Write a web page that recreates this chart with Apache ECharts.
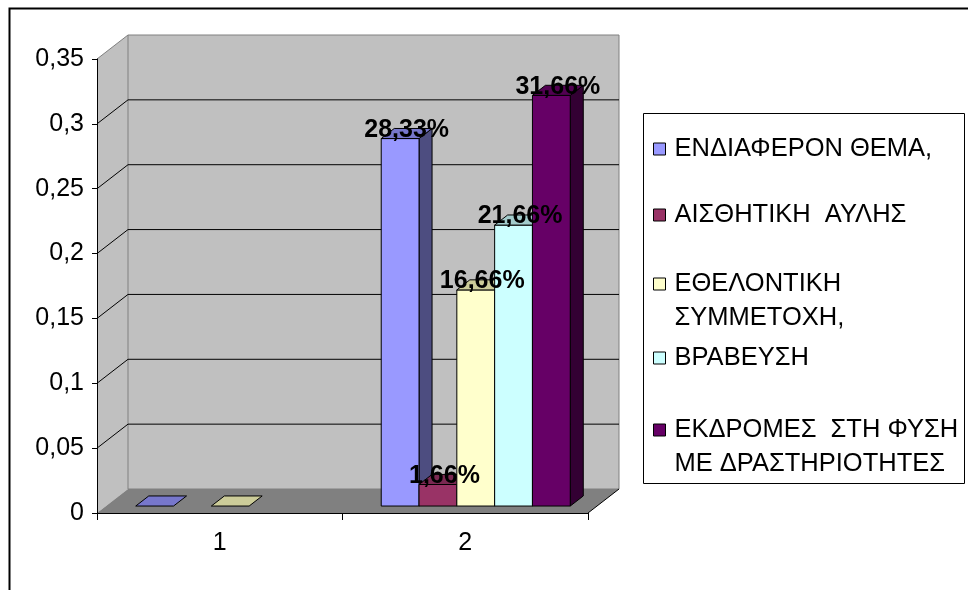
<!DOCTYPE html>
<html>
<head>
<meta charset="utf-8">
<script src="https://cdn.jsdelivr.net/npm/echarts@6/dist/echarts.min.js"></script>
<style>
  html, body { margin: 0; padding: 0; background: #fff; }
  #chart { width: 968px; height: 590px; }
</style>
</head>
<body>
<div id="chart"></div>
<script>
// Categories and value axis ticks
const categories = ['1', '2'];
const yTicks = [0, 0.05, 0.1, 0.15, 0.2, 0.25, 0.3, 0.35];

// Series names (legend text) and their wrapped legend lines
const seriesNames = [
  'ΕΝΔΙΑΦΕΡΟΝ ΘΕΜΑ,',
  'ΑΙΣΘΗΤΙΚΗ  ΑΥΛΗΣ',
  'ΕΘΕΛΟΝΤΙΚΗ ΣΥΜΜΕΤΟΧΗ,',
  'ΒΡΑΒΕΥΣΗ',
  'ΕΚΔΡΟΜΕΣ  ΣΤΗ ΦΥΣΗ ΜΕ ΔΡΑΣΤΗΡΙΟΤΗΤΕΣ'
];
const legendLines = [
  ['ΕΝΔΙΑΦΕΡΟΝ ΘΕΜΑ,'],
  ['ΑΙΣΘΗΤΙΚΗ  ΑΥΛΗΣ'],
  ['ΕΘΕΛΟΝΤΙΚΗ', 'ΣΥΜΜΕΤΟΧΗ,'],
  ['ΒΡΑΒΕΥΣΗ'],
  ['ΕΚΔΡΟΜΕΣ  ΣΤΗ ΦΥΣΗ', 'ΜΕ ΔΡΑΣΤΗΡΙΟΤΗΤΕΣ']
];

// Values per series, one entry per category (null = no column)
const interestValues   = [0, 0.2833];
const courtyardValues  = [null, 0.0166];
const volunteerValues  = [0, 0.1666];
const awardValues      = [null, 0.2166];
const excursionValues  = [null, 0.3166];
const allValues = [interestValues, courtyardValues, volunteerValues, awardValues, excursionValues];

// Face colours: front, side, top
const frontColors = ['#9999FF', '#993366', '#FFFFCC', '#CCFFFF', '#660066'];
const sideColors  = ['#4D4D80', '#4D1A33', '#808066', '#668080', '#330033'];
const topColors   = ['#7777CC', '#7A2952', '#CCCC99', '#A3CCCC', '#520052'];

const FONT = "'Liberation Sans', Arial, sans-serif";
// Depth of the 3D box (pixels) and the slice of it the columns occupy
const DX = 31, DY = -24;
const F0 = 0.29, F1 = 0.71;
const BAR_FRACTION = 0.154;
const BAR_SHIFT = 1.5;

const chart = echarts.init(document.getElementById('chart'), null, { renderer: 'canvas' });

function fmtPct(v) {
  return (v * 100).toFixed(2).replace('.', ',') + '%';
}

// Side wall, back wall, floor and gridlines of the 3D box
function renderWalls(params, api) {
  const bw = api.size([1, 0])[0];
  const o = api.coord([0, 0]);
  const xL = o[0] - bw / 2;
  const xR = xL + bw * categories.length;
  const y0 = o[1];
  const yT = api.coord([0, yTicks[yTicks.length - 1]])[1];
  const children = [];
  // left wall
  children.push({ type: 'polygon', shape: { points: [[xL, y0], [xL, yT], [xL + DX, yT + DY], [xL + DX, y0 + DY]] },
    style: { fill: '#C0C0C0', stroke: null } });
  // back wall
  children.push({ type: 'rect', shape: { x: xL + DX, y: yT + DY, width: xR - xL, height: y0 - yT } ,
    style: { fill: '#C0C0C0', stroke: '#808080', lineWidth: 1 } });
  // floor
  children.push({ type: 'polygon', shape: { points: [[xL, y0], [xR, y0], [xR + DX, y0 + DY], [xL + DX, y0 + DY]] },
    style: { fill: '#808080', stroke: null } });
  children.push({ type: 'line', shape: { x1: xR, y1: y0, x2: xR + DX, y2: y0 + DY },
    style: { stroke: '#000', lineWidth: 1 } });
  // gridlines
  yTicks.forEach(function (t, i) {
    if (t === 0) return;
    const y = api.coord([0, t])[1];
    const top = i === yTicks.length - 1;
    const c = top ? '#808080' : '#000';
    children.push({ type: 'line', shape: { x1: xL, y1: y, x2: xL + DX, y2: y + DY }, style: { stroke: c, lineWidth: 1 } });
    if (!top) {
      children.push({ type: 'line', shape: { x1: xL + DX, y1: y + DY, x2: xR + DX, y2: y + DY }, style: { stroke: c, lineWidth: 1 } });
    }
  });
  return { type: 'group', children: children };
}

// One 3D column: front, side and top faces plus its value label
function makeBarRenderer(si) {
  return function (params, api) {
    const cat = api.value(0);
    const v = api.value(1);
    const bw = api.size([1, 0])[0];
    const base = api.coord([cat, 0]);
    const barW = bw * BAR_FRACTION;
    const n = allValues.length;
    const x0 = base[0] - barW * n / 2 + si * barW + DX * F0 + BAR_SHIFT;
    const yBase = base[1] + DY * F0;
    const yTop = api.coord([cat, v])[1] + DY * F0;
    const dx = DX * (F1 - F0), dy = DY * (F1 - F0);
    const stroke = { stroke: '#000', lineWidth: 1 };
    const children = [];
    if (yBase - yTop > 0.5) {
      children.push({ type: 'polygon', shape: { points: [[x0 + barW, yTop], [x0 + barW + dx, yTop + dy], [x0 + barW + dx, yBase + dy], [x0 + barW, yBase]] },
        style: Object.assign({ fill: sideColors[si] }, stroke) });
      children.push({ type: 'rect', shape: { x: x0, y: yTop, width: barW, height: yBase - yTop },
        style: Object.assign({ fill: frontColors[si] }, stroke) });
    }
    children.push({ type: 'polygon', shape: { points: [[x0, yTop], [x0 + dx, yTop + dy], [x0 + barW + dx, yTop + dy], [x0 + barW, yTop]] },
      style: Object.assign({ fill: topColors[si] }, stroke) });
    if (v > 0) {
      children.push({ type: 'text', z2: 100,
        style: { text: fmtPct(v), x: x0 + barW / 2 + dx / 2, y: yTop + 4, align: 'center', verticalAlign: 'bottom',
          fill: '#000', font: 'bold 25px ' + FONT } });
    }
    return { type: 'group', children: children };
  };
}

const barSeries = allValues.map(function (vals, si) {
  const data = [];
  vals.forEach(function (v, ci) { if (v !== null) data.push([ci, v]); });
  return {
    type: 'custom', name: seriesNames[si], coordinateSystem: 'cartesian2d',
    renderItem: makeBarRenderer(si), data: data, z: 3, silent: true,
    itemStyle: { color: frontColors[si] }
  };
});

// Legend: one component per entry so every entry sits on its own line
const LEG_LH = 34;
const legendCenters = [149, 215, 284, 358, 430];
const legends = seriesNames.map(function (name, si) {
  const lines = legendLines[si];
  const text = lines.length > 1 ? '\n' + lines.join('\n') : lines[0];
  const half = lines.length > 1 ? LEG_LH * 1.5 : LEG_LH / 2;
  return {
    orient: 'vertical', left: 653, top: legendCenters[si] - half, padding: 0,
    itemWidth: 12, itemHeight: 12, selectedMode: false,
    data: [{ name: name, icon: 'rect', itemStyle: { color: frontColors[si], borderColor: '#000', borderWidth: 1 } }],
    formatter: function () { return text; },
    textStyle: { color: '#000', fontSize: 25.5, fontFamily: FONT, lineHeight: LEG_LH, padding: [0, 0, 0, 4] }
  };
});

const option = {
  animation: false,
  backgroundColor: '#ffffff',
  grid: { left: 97, top: 59, width: 491, height: 454, containLabel: false },
  xAxis: {
    type: 'category', data: categories, z: 10,
    axisLine: { lineStyle: { color: '#000', width: 1 } },
    axisTick: { show: true, length: 7, lineStyle: { color: '#000' } },
    axisLabel: { color: '#000', fontSize: 25, fontFamily: FONT, margin: 18 },
    splitLine: { show: false }
  },
  yAxis: {
    type: 'value', min: yTicks[0], max: yTicks[yTicks.length - 1], interval: 0.05, z: 10,
    axisLine: { show: true, lineStyle: { color: '#000', width: 1 } },
    axisTick: { show: true, length: 5, lineStyle: { color: '#000' } },
    axisLabel: { color: '#000', fontSize: 25, fontFamily: FONT, margin: 13,
      formatter: function (v) { return String(parseFloat(v.toFixed(2))).replace('.', ','); } },
    splitLine: { show: false }
  },
  legend: legends,
  graphic: [
    { type: 'rect', left: 7, top: 6, z: -10, shape: { x: 0, y: 0, width: 990, height: 583.5 },
      style: { fill: 'none', stroke: '#000', lineWidth: 2 }, silent: true },
    { type: 'rect', z: -5, shape: { x: 643.5, y: 113.5, width: 321, height: 370 },
      style: { fill: '#fff', stroke: '#000', lineWidth: 1 }, silent: true }
  ],
  series: [{
    type: 'custom', name: 'walls', coordinateSystem: 'cartesian2d', silent: true, z: 1,
    renderItem: renderWalls, data: [[0, 0]]
  }].concat(barSeries)
};

chart.setOption(option);
</script>
</body>
</html>
